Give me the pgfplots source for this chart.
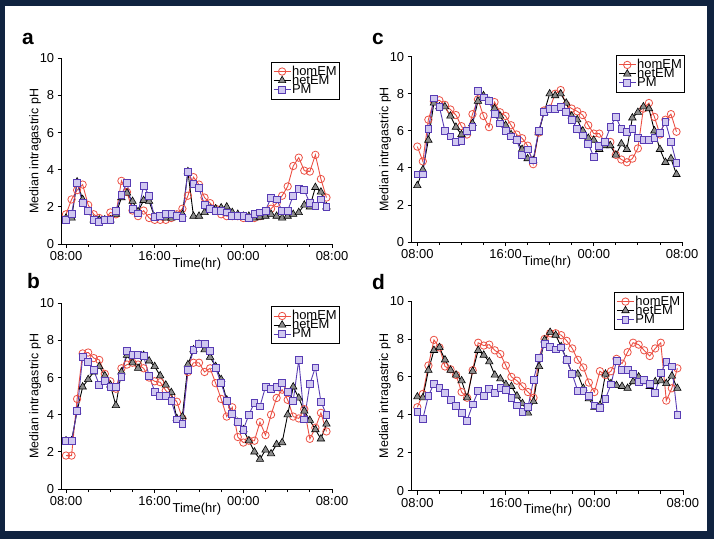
\documentclass[border=0pt]{standalone}
\usepackage{pgfplots}
\pgfplotsset{compat=1.18}
\usepackage{pgfplotstable}
\usepackage{fontspec}
\setmainfont{Liberation Sans}
\definecolor{navy}{RGB}{16,35,64}
\definecolor{homred}{RGB}{236,80,68}
\definecolor{pmpurple}{RGB}{88,60,180}
\definecolor{pmfill}{RGB}{208,200,240}
\definecolor{trifill}{RGB}{140,140,140}

\pgfplotstableread{
t hom het pm
0 1.6 1.4 1.3
0.5 2.4 1.4 1.6
1 2.9 3.35 3.3
1.5 3.2 2.4 2.2
2 2.1 1.7 1.8
2.5 1.6 1.3 1.3
3 1.4 1.3 1.2
3.5 1.3 1.3 1.3
4 1.7 1.3 1.3
4.5 1.6 1.6 1.8
5 3.4 2.5 2.65
5.5 2.8 2.75 3.3
6 1.8 2.3 1.9
6.5 1.5 1.75 1.65
7 1.8 2.35 3.15
7.5 1.4 2.3 2.6
8 1.3 1.45 1.45
8.5 1.3 1.45 1.5
9 1.3 1.4 1.6
9.5 1.4 1.4 1.6
10 1.6 1.5 1.5
10.5 1.9 1.6 1.4
11 2.6 3.9 3.9
11.5 3.6 1.5 3.25
12 3.2 1.5 3.0
12.5 2.5 1.7 2.1
13 2.2 1.9 1.9
13.5 1.9 1.9 1.8
14 1.6 1.95 1.8
14.5 1.5 2.0 1.7
15 1.5 1.7 1.5
15.5 1.5 1.6 1.5
16 1.4 1.5 1.5
16.5 1.4 1.5 1.4
17 1.4 1.4 1.6
17.5 1.5 1.45 1.7
18 1.7 1.5 1.8
18.5 1.9 1.6 2.5
19 2.2 1.5 2.4
19.5 2.6 1.4 1.8
20 3.1 1.5 1.8
20.5 4.2 1.6 2.6
21 4.65 1.7 2.95
21.5 3.95 2.1 2.9
22 3.9 2.0 2.2
22.5 4.8 3.05 2.05
23 3.5 2.8 2.4
23.5 2.5 2.0 2.0
}\tabA

\pgfplotstableread{
t hom het pm
0 1.8 2.6 2.6
0.5 1.8 2.6 2.6
1 4.85 4.2 4.2
1.5 7.3 5.5 7.1
2 7.35 5.9 6.85
2.5 7.05 6.3 6.4
3 6.95 6.6 5.6
3.5 6.2 6.1 5.8
4 5.8 5.6 5.5
4.5 5.4 4.5 5.5
5 6.5 6.3 6.05
5.5 6.7 7.2 7.45
6 6.8 6.8 7.2
6.5 6.7 6.5 7.2
7 6.5 7.2 7.15
7.5 6.0 6.9 6.1
8 5.8 6.6 5.25
8.5 5.75 6.1 5.0
9 5.3 5.6 5.0
9.5 5.0 5.2 4.75
10 4.7 3.8 3.75
10.5 3.8 3.9 3.5
11 6.3 6.7 6.4
11.5 6.8 7.5 7.5
12 6.8 7.8 7.8
12.5 6.3 7.5 7.8
13 6.5 7.1 7.45
13.5 5.7 6.6 6.5
14 4.85 5.9 5.7
14.5 3.9 4.8 4.75
15 4.4 4.0 4.05
15.5 2.8 3.6 3.6
16 2.5 3.2 3.2
16.5 2.6 2.6 4.0
17 2.6 2.0 4.65
17.5 3.6 1.6 4.45
18 2.9 2.1 5.5
18.5 4.0 1.9 5.4
19 4.9 2.4 5.5
19.5 5.35 2.5 5.7
20 4.8 4.0 5.25
20.5 3.9 5.5 4.75
21 3.8 4.9 6.95
21.5 4.3 4.2 3.75
22 2.7 3.7 5.65
22.5 3.3 3.2 6.55
23 4.1 2.7 4.7
23.5 3.1 3.5 4.0
}\tabB

\pgfplotstableread{
t hom het pm
0 5.15 3.05 3.65
0.5 4.35 3.9 3.65
1 6.6 5.5 6.1
1.5 7.6 7.5 7.75
2 7.65 7.3 7.3
2.5 7.4 7.3 6.0
3 7.15 6.8 5.7
3.5 6.85 6.2 5.4
4 6.25 5.8 5.45
4.5 5.8 5.9 6.0
5 6.9 6.4 6.2
5.5 7.7 7.6 8.15
6 6.8 7.9 7.8
6.5 6.2 7.6 7.6
7 7.55 7.2 6.9
7.5 7.0 6.8 6.4
8 6.8 6.3 6.0
8.5 6.3 5.8 5.7
9 5.8 5.5 5.5
9.5 5.6 5.0 4.7
10 5.2 4.5 5.0
10.5 4.2 4.4 4.4
11 5.9 5.9 6.0
11.5 7.1 7.0 7.0
12 7.2 8.0 7.2
12.5 8.0 7.9 7.2
13 8.2 8.0 7.3
13.5 7.4 7.5 7.0
14 7.2 6.8 6.6
14.5 7.05 6.6 6.1
15 6.85 6.0 5.75
15.5 6.3 5.6 5.3
16 5.85 5.5 4.6
16.5 5.85 5.0 5.2
17 5.4 5.2 5.4
17.5 5.4 5.2 6.2
18 4.7 4.7 6.75
18.5 4.45 5.3 6.1
19 4.3 5.0 5.95
19.5 4.5 6.7 6.1
20 5.05 7.0 5.6
20.5 7.2 7.3 5.5
21 7.5 7.2 5.5
21.5 6.75 6.0 5.6
22 5.8 5.0 5.9
22.5 6.6 4.3 6.5
23 6.9 4.5 5.4
23.5 5.95 3.65 4.25
}\tabC

\pgfplotstableread{
t hom het pm
0 4.4 4.95 4.15
0.5 5.1 4.9 3.8
1 6.6 6.35 5.0
1.5 7.95 7.4 5.65
2 7.55 7.55 5.4
2.5 6.55 6.9 5.15
3 6.4 6.35 4.8
3.5 6.1 6.1 4.45
4 5.2 5.8 4.1
4.5 4.9 4.9 3.7
5 6.35 6.3 4.55
5.5 7.8 7.4 5.25
6 7.65 7.15 5.0
6.5 7.7 6.8 5.35
7 7.4 6.1 5.15
7.5 7.2 5.9 5.4
8 6.6 5.6 5.3
8.5 6.0 5.5 4.9
9 5.8 5.0 4.5
9.5 5.5 4.6 4.15
10 5.2 4.1 4.4
10.5 4.9 4.7 5.85
11 7.0 6.55 7.0
11.5 8.0 7.95 7.75
12 8.3 8.35 7.6
12.5 8.3 8.2 7.45
13 8.2 7.6 7.55
13.5 7.9 6.9 6.9
14 7.5 6.15 6.15
14.5 6.9 6.15 5.25
15 6.5 5.4 5.25
15.5 5.7 4.85 5.0
16 5.2 4.4 4.5
16.5 6.3 4.5 4.35
17 6.1 6.15 4.85
17.5 6.3 5.65 5.6
18 6.95 5.55 6.85
18.5 6.7 5.5 6.35
19 7.3 5.4 6.35
19.5 7.8 5.75 6.15
20 7.7 6.0 5.75
20.5 7.4 5.75 5.85
21 7.1 5.5 5.65
21.5 7.5 5.75 5.15
22 7.8 5.8 6.2
22.5 4.75 5.65 6.8
23 5.4 6.05 6.55
23.5 6.45 5.4 4.0
}\tabD

\pgfplotsset{
  panel/.style={
    scale only axis,
    ymin=0, ymax=10,
    axis lines=left,
    axis line style={-, line width=0.8pt},
    xtick={0,8,16,24}, xticklabels={08:00,16:00,00:00,08:00},
    minor xtick={2,4,6,10,12,14,18,20,22},
    ytick={0,2,4,6,8,10},
    tick align=outside,
    major tick length=4bp, minor tick length=3bp,
    tick style={black, line width=0.8pt},
    /pgf/number format/assume math mode=true,
    ticklabel style={font=\fontsize{13}{13}\selectfont},
    label style={font=\fontsize{12.5}{12.5}\selectfont},
    xlabel={Time(hr)},
    ylabel={Median intragastric pH},
    xlabel style={at={(axis description cs:0.5,0)}, anchor=north, yshift=-13.5bp, inner sep=0pt, font=\fontsize{13}{13}\selectfont},
    ylabel style={at={(axis description cs:-0.098,0.5)}, anchor=center, inner sep=0pt},
    clip=false,
    legend cell align=left,
    legend style={draw=black, line width=0.8pt, fill=white,
      font=\fontsize{13}{13}\selectfont,
      inner xsep=2bp, inner ysep=5bp, row sep=0bp, anchor=north east,
      nodes={inner sep=1bp, text height=7bp, text depth=0bp}},
  },
  hom/.style={color=homred, line width=0.9pt, mark=o, mark size=3.7bp,
    mark options={solid, line width=0.8pt}},
  het/.style={color=black, line width=0.9pt, mark=triangle*, mark size=4.3bp,
    mark options={solid, fill=trifill, draw=black, line width=0.6pt}},
  pm/.style={color=pmpurple, line width=0.9pt, mark=square*, mark size=3.4bp,
    mark options={solid, fill=pmfill, draw=pmpurple, line width=0.8pt}},
}

\begin{document}
\begin{tikzpicture}
\fill[navy] (0,0) rectangle (714bp,539bp);
\fill[white] (5bp,8bp) rectangle (707bp,533bp);

% panel a
\begin{axis}[panel, at={(61.7bp,295bp)}, anchor=south west,
  width=270.3bp, height=185.7bp, xmin=-0.39, xmax=24,
  legend style={at={(axis description cs:1.03,0.982)}}]
\addplot[hom] table[x=t,y=hom] {\tabA};
\addplot[het] table[x=t,y=het] {\tabA};
\addplot[pm] table[x=t,y=pm] {\tabA};
\legend{homEM,hetEM,PM}
\end{axis}

% panel b
\begin{axis}[panel, at={(61.7bp,50bp)}, anchor=south west,
  width=270.3bp, height=185.7bp, xmin=-0.39, xmax=24,
  legend style={at={(axis description cs:1.03,0.985)}}]
\addplot[hom] table[x=t,y=hom] {\tabB};
\addplot[het] table[x=t,y=het] {\tabB};
\addplot[pm] table[x=t,y=pm] {\tabB};
\legend{homEM,hetEM,PM}
\end{axis}

% panel c
\begin{axis}[panel, at={(411.7bp,297bp)}, anchor=south west,
  width=270.3bp, height=185.3bp, xmin=-0.51, xmax=24,
  legend style={at={(axis description cs:1.012,1.009)}}]
\addplot[hom] table[x=t,y=hom] {\tabC};
\addplot[het] table[x=t,y=het] {\tabC};
\addplot[pm] table[x=t,y=pm] {\tabC};
\legend{homEM,hetEM,PM}
\end{axis}

% panel d
\begin{axis}[panel, at={(411.7bp,48.3bp)}, anchor=south west,
  width=272.3bp, height=189.7bp, xmin=-0.51, xmax=24.1,
  legend style={at={(axis description cs:0.998,1.049)}}]
\addplot[hom] table[x=t,y=hom] {\tabD};
\addplot[het] table[x=t,y=het] {\tabD};
\addplot[pm] table[x=t,y=pm] {\tabD};
\legend{homEM,hetEM,PM}
\end{axis}

\node[anchor=base west, inner sep=0pt, font=\fontsize{21}{21}\selectfont\bfseries] at (22bp,494bp) {a};
\node[anchor=base west, inner sep=0pt, font=\fontsize{21}{21}\selectfont\bfseries] at (372bp,494bp) {c};
\node[anchor=base west, inner sep=0pt, font=\fontsize{21}{21}\selectfont\bfseries] at (27bp,250bp) {b};
\node[anchor=base west, inner sep=0pt, font=\fontsize{21}{21}\selectfont\bfseries] at (372bp,249bp) {d};
\end{tikzpicture}
\end{document}
